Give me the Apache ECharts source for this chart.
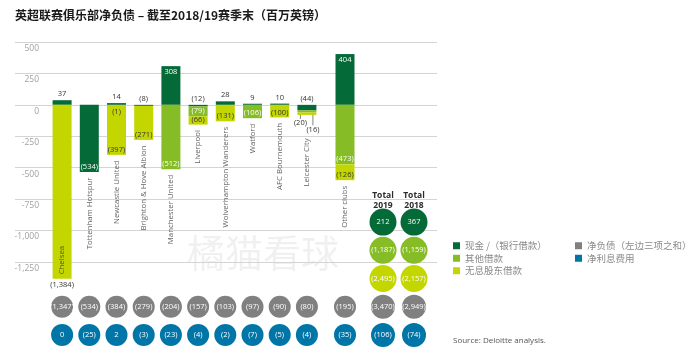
<!DOCTYPE html>
<html><head><meta charset="utf-8">
<script src="https://cdn.jsdelivr.net/npm/echarts@6/dist/echarts.min.js"></script>
<style>html,body{margin:0;padding:0;background:#fff}#c{width:693px;height:357px}</style>
</head><body><div id="c"></div>
<script>
// ---------- data ----------
const titleText = '英超联赛俱乐部净负债 – 截至2018/19赛季末（百万英镑）';
const clubs = ['Chelsea','Tottenham Hotspur','Newcastle United','Brighton & Hove Albion','Manchester United','Liverpool','Wolverhampton Wanderers','Watford','AFC Bournemouth','Leicester City'];
const cash        = [37, -534, 14, -8, 308, -12, 28, 9, 10, -44];
const otherBorrow = [0, 0, -1, 0, -512, -79, 0, -106, 0, -16];
const softLoans   = [-1384, 0, -397, -271, 0, -66, -131, 0, -100, -20];
const netDebt     = [-1347, -534, -384, -279, -204, -157, -103, -97, -90, -80];
const netInterest = [0, -25, 2, -3, -23, -4, -2, -7, -5, -4];
const othersName = ['Other clubs'];
const othersCash = [404];
const othersOther = [-473];
const othersSoft = [-126];
const othersNet = [-195];
const othersInterest = [-35];
const totalCols = ['Total\n2019', 'Total\n2018'];
const totalCash = [212, 367];
const totalOther = [-1187, -1159];
const totalSoft = [-2495, -2157];
const totalNet = [-3470, -2949];
const totalInterest = [-106, -74];
const yTicks = { min: -1250, max: 500, interval: 250 };
const seriesNames = ['现金 /（银行借款）', '其他借款', '无息股东借款', '净负债（左边三项之和）', '净利息费用'];
const sourceText = 'Source: Deloitte analysis.';
const watermark = '橘猫看球';

// ---------- style ----------
const COL = { cash: '#046a38', other: '#86bc25', soft: '#c4d600', net: '#808080', int: '#0076a8' };
const FONT = '"Open Sans", "Noto Sans", sans-serif';
const CJK = '"Noto Sans CJK SC", sans-serif';
const DARK = '#333';
const fmt = v => v < 0 ? '(' + Math.abs(v).toLocaleString('en-US') + ')' : v.toLocaleString('en-US');
// labels moved away from their thin segments, with a guide line: [club, component] -> shift
const moved = {
  'Newcastle United|other': { dx: 0, dy: 2 },
  'Leicester City|other': { dx: 6, dy: 12 },
  'Leicester City|soft': { dx: -6.5, dy: 3 }
};

function lbl(comp, v, club) {
  const base = { show: true, fontSize: 7.5, fontFamily: FONT, formatter: p => fmt(p.value) };
  if (moved[club + '|' + comp]) return Object.assign(base, { position: 'bottom', distance: 1, color: DARK });
  if (comp === 'cash') {
    if (v >= 100) return Object.assign(base, { position: 'insideTop', distance: 2, color: '#fff' });
    if (v <= -100) return Object.assign(base, { position: 'insideBottom', distance: 1, color: '#fff' });
    return Object.assign(base, { position: 'top', distance: 2, color: DARK });
  }
  if (comp === 'other') return Object.assign(base, { position: 'insideBottom', distance: 1, color: '#fff' });
  if (club === 'Chelsea') return Object.assign(base, { position: 'bottom', distance: 2, color: DARK });
  return Object.assign(base, { position: 'insideBottom', distance: 1, color: DARK });
}

function barData(vals, comp, names) {
  return vals.map((v, i) => {
    if (v === 0) return '-';
    const item = { value: v, label: lbl(comp, v, names[i]) };
    if (moved[names[i] + '|' + comp]) item.labelLine = { show: true, lineStyle: { color: '#666', width: 0.8 } };
    return item;
  });
}

function barSeries(vals, comp, nameIdx, names, axisIdx, stack) {
  return {
    type: 'bar', name: seriesNames[nameIdx], xAxisIndex: axisIdx, yAxisIndex: axisIdx,
    stack: stack, barWidth: 19, clip: false, data: barData(vals, comp, names),
    itemStyle: { color: COL[comp] }, emphasis: { disabled: true },
    labelLine: { show: false, length2: 0 },
    labelLayout: p => {
      const m = moved[names[p.dataIndex] + '|' + comp];
      return m ? { dx: m.dx, dy: m.dy } : {};
    }
  };
}

function nameSeries(names, cs, os, ss, axisIdx) {
  return {
    type: 'scatter', xAxisIndex: axisIdx, yAxisIndex: axisIdx, symbolSize: 1, clip: false,
    itemStyle: { color: 'rgba(0,0,0,0)' }, silent: true, z: 5,
    data: names.map((n, i) => {
      const bottom = Math.min(0, cs[i]) + Math.min(0, os[i]) + Math.min(0, ss[i]);
      let label;
      if (n === 'Chelsea') label = { position: 'top', distance: 4, align: 'left' };
      else if (n === 'Leicester City') label = { position: 'bottom', distance: 23, align: 'right' };
      else label = { position: 'bottom', distance: 5, align: 'right' };
      return { value: [n, bottom], label: label };
    }),
    label: { show: true, rotate: 90, verticalAlign: 'middle', color: '#3a3a3a', fontSize: 7.8, fontFamily: FONT,
             formatter: p => p.value[0] }
  };
}

function circleSeries(cols, vals, rowIdx, comp, axisIdx, size) {
  return {
    type: 'scatter', name: seriesNames[rowIdx], xAxisIndex: axisIdx, yAxisIndex: axisIdx,
    symbol: 'circle', symbolSize: size, itemStyle: { color: COL[comp], opacity: 1 },
    data: cols.map((c, i) => [c, seriesNames[rowIdx], vals[i]]),
    label: { show: true, position: 'inside', color: '#fff', fontSize: 7.5, fontFamily: FONT, formatter: p => fmt(p.value[2]) },
    emphasis: { disabled: true }
  };
}

const hiddenVal = gi => ({ type: 'value', gridIndex: gi, min: yTicks.min, max: yTicks.max, interval: yTicks.interval, show: false });
const hiddenCat = (gi, data) => ({ type: 'category', gridIndex: gi, data: data, show: false });
const rowAxis = gi => ({ type: 'category', gridIndex: gi, data: seriesNames, inverse: true, show: false });

const option = {
  animation: false,
  backgroundColor: '#fff',
  title: { text: titleText, left: 10, top: 4, textStyle: { fontSize: 12, fontWeight: 'bold', color: '#1a1a1a', fontFamily: CJK } },
  grid: [
    { left: 15, top: 42, width: 422, height: 220 },
    { left: 48.5, top: 42, width: 272, height: 220 },
    { left: 331.4, top: 42, width: 27.2, height: 220 },
    { left: 48.5, top: 208, width: 272, height: 141 },
    { left: 331.4, top: 208, width: 27.2, height: 141 },
    { left: 367.5, top: 208, width: 62, height: 141 }
  ],
  xAxis: [
    { type: 'value', gridIndex: 0, show: false, min: 0, max: 1 },
    hiddenCat(1, clubs), hiddenCat(2, othersName),
    hiddenCat(3, clubs), hiddenCat(4, othersName),
    { type: 'category', gridIndex: 5, data: totalCols, position: 'top', axisLine: { show: false }, axisTick: { show: false },
      axisLabel: { margin: -2, fontSize: 8.5, fontWeight: 'bold', lineHeight: 9.5, color: '#2a2a2a', fontFamily: FONT } }
  ],
  yAxis: [
    { type: 'value', gridIndex: 0, min: yTicks.min, max: yTicks.max, interval: yTicks.interval,
      axisLine: { show: false }, axisTick: { show: false },
      splitLine: { lineStyle: { color: '#d4d4d4', width: 1 } },
      axisLabel: { margin: -24, align: 'right', verticalAlign: 'top', padding: [2, 0, 0, 0], fontSize: 8.5, color: '#a0a0a0', fontFamily: FONT,
                   formatter: v => v.toLocaleString('en-US') } },
    hiddenVal(1), hiddenVal(2), rowAxis(3), rowAxis(4), rowAxis(5)
  ],
  legend: [
    { left: 448, top: 236, orient: 'vertical', itemWidth: 7, itemHeight: 7, itemGap: 3, icon: 'rect', selectedMode: false,
      data: seriesNames.slice(0, 3), textStyle: { color: '#8a8a8a', fontSize: 9.5, fontFamily: CJK } },
    { left: 570, top: 236, orient: 'vertical', itemWidth: 7, itemHeight: 7, itemGap: 3, icon: 'rect', selectedMode: false,
      data: seriesNames.slice(3), textStyle: { color: '#8a8a8a', fontSize: 9.5, fontFamily: CJK } }
  ],
  graphic: [
    { type: 'text', left: 187, top: 234, silent: true, z: -1,
      style: { text: watermark, fontSize: 38, fill: 'rgba(0,0,0,0.06)', fontFamily: CJK } },
    { type: 'text', left: 453, top: 337, silent: true,
      style: { text: sourceText, fontSize: 8, fill: '#555', fontFamily: FONT } }
  ],
  series: [
    barSeries(cash, 'cash', 0, clubs, 1, 'a'),
    barSeries(otherBorrow, 'other', 1, clubs, 1, 'a'),
    barSeries(softLoans, 'soft', 2, clubs, 1, 'a'),
    barSeries(othersCash, 'cash', 0, othersName, 2, 'b'),
    barSeries(othersOther, 'other', 1, othersName, 2, 'b'),
    barSeries(othersSoft, 'soft', 2, othersName, 2, 'b'),
    nameSeries(clubs, cash, otherBorrow, softLoans, 1),
    nameSeries(othersName, othersCash, othersOther, othersSoft, 2),
    circleSeries(clubs, netDebt, 3, 'net', 3, 22),
    circleSeries(clubs, netInterest, 4, 'int', 3, 22),
    circleSeries(othersName, othersNet, 3, 'net', 4, 22),
    circleSeries(othersName, othersInterest, 4, 'int', 4, 22),
    circleSeries(totalCols, totalCash, 0, 'cash', 5, 27),
    circleSeries(totalCols, totalOther, 1, 'other', 5, 27),
    circleSeries(totalCols, totalSoft, 2, 'soft', 5, 27),
    circleSeries(totalCols, totalNet, 3, 'net', 5, 24),
    circleSeries(totalCols, totalInterest, 4, 'int', 5, 24)
  ]
};
const chart = echarts.init(document.getElementById('c'), null, { renderer: 'canvas' });
chart.setOption(option);
</script>
</body></html>
